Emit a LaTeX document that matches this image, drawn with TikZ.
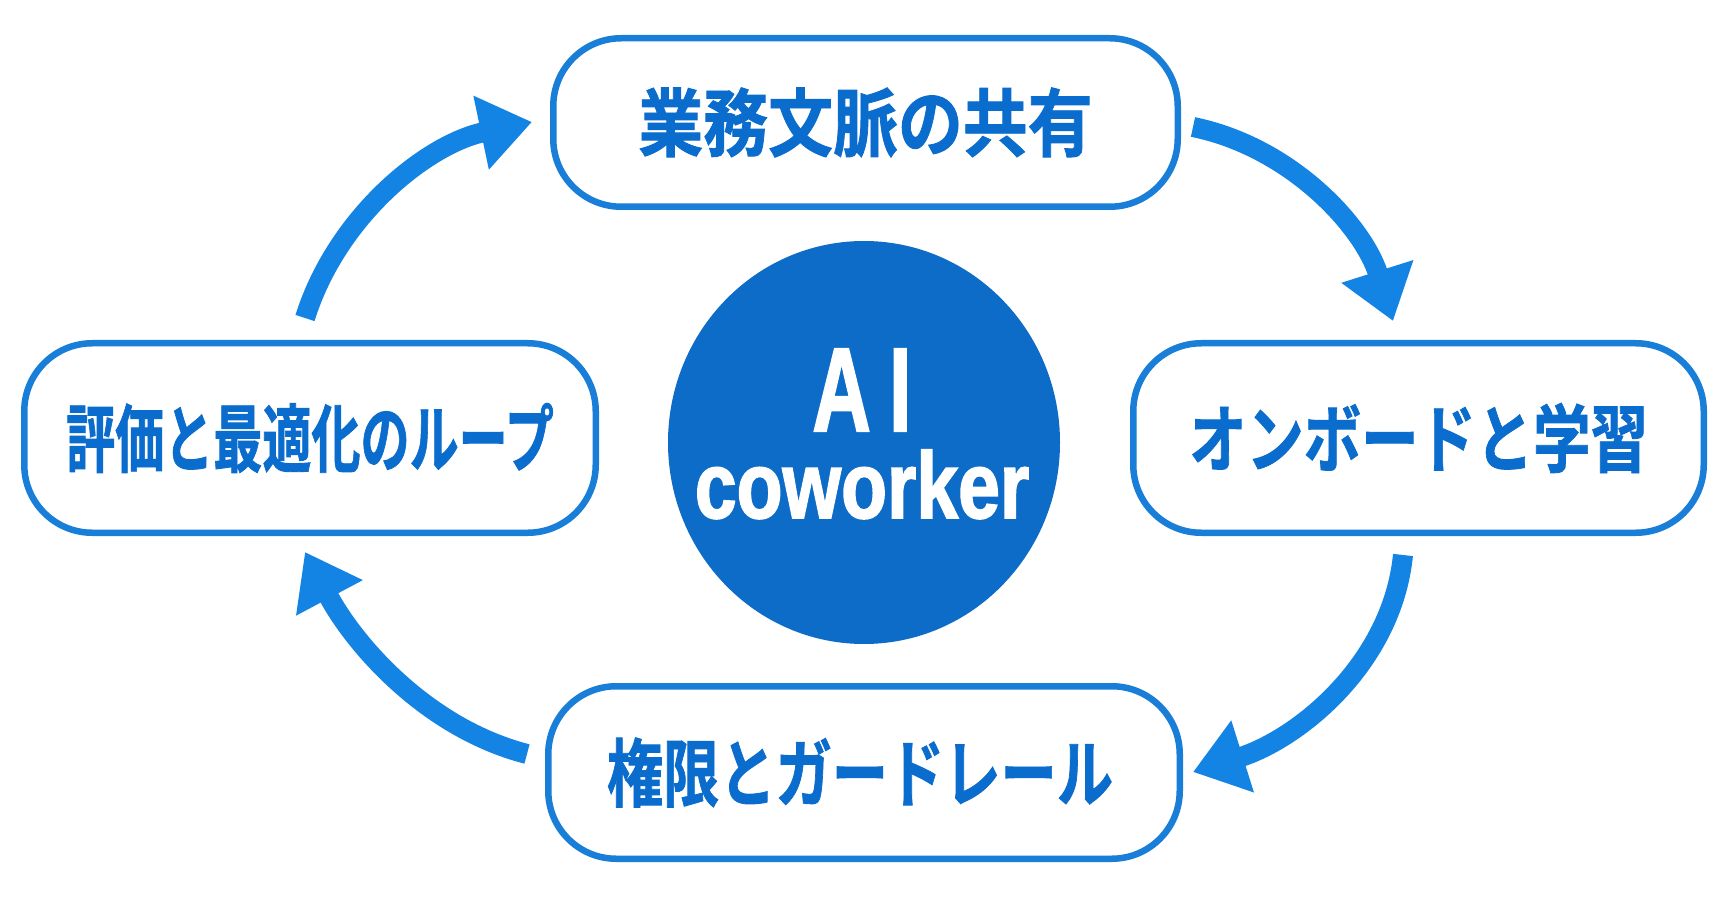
\documentclass[tikz,border=0pt]{standalone}
\usepackage{fontspec}
\usepackage{graphicx}
\usetikzlibrary{arrows.meta,shapes.geometric}
\newfontfamily\jpfont{Noto Sans CJK JP}[BoldFont={* Bold}, BoldFeatures={FakeBold=1.2}]
\newfontfamily\aifont{Liberation Sans}[BoldFeatures={FakeBold=2}]
\definecolor{cblue}{RGB}{12,108,200}
\definecolor{tblue}{RGB}{10,108,204}
\definecolor{bblue}{RGB}{24,126,216}
\definecolor{ablue}{RGB}{20,132,228}
\begin{document}
\begin{tikzpicture}[x=1pt,y=-1pt,
  stage/.style={draw=bblue, line width=6.5pt, fill=white, rounded corners=68pt,
    inner sep=0pt, text=tblue, font={\jpfont\bfseries\fontsize{74}{80}\selectfont}},
  cyc/.style={draw=ablue, line width=20pt, -{Triangle[width=72pt,length=52pt]}},
  coretext/.style={inner sep=0pt, text=white, font={\aifont\bfseries}}]
\fill[white] (0,0) rectangle (1730,909);
\useasboundingbox (0,0) rectangle (1730,909);

% stages
\node[stage, minimum width=624.5pt, minimum height=168.5pt] (top) at (865.5,122.5)
  {\scalebox{0.877}[1]{業務文脈の共有}};
\node[stage, minimum width=571.5pt, minimum height=189.5pt] (left) at (310,438)
  {\scalebox{0.663}[1]{評価と最適化のループ}};
\node[stage, minimum width=570.5pt, minimum height=189.5pt] (right) at (1418.5,438)
  {\scalebox{0.775}[1]{オンボードと学習}};
\node[stage, minimum width=631.5pt, minimum height=172.5pt] (bottom) at (864,772.5)
  {\hspace*{-8pt}\scalebox{0.76}[1]{権限とガードレール}};

% core
\node[ellipse, fill=cblue, minimum width=392pt, minimum height=403pt, inner sep=0pt] (core) at (864,442.5) {};
\node[coretext] (label) at (862,434)
  {\vbox{\baselineskip=87pt \lineskiplimit=-200pt \lineskip=0pt
    \hbox to 400pt{\hss\scalebox{0.68}[1]{\fontsize{119}{87}\selectfont A\kern27pt I}\hss}
    \hbox to 400pt{\hss\scalebox{0.80}[1]{\fontsize{94}{87}\selectfont coworker}\hss}}};

% arrow end points
\coordinate (a1s) at (305,318);  \coordinate (a1e) at (532,122);
\coordinate (a2s) at (1193,127); \coordinate (a2e) at (1393,321);
\coordinate (a3s) at (1403,555); \coordinate (a3e) at (1193,772);
\coordinate (a4s) at (527,754);  \coordinate (a4e) at (305,552);

\draw[cyc] (a1s) .. controls (337,216) and (427,144) .. (a1e);
\draw[cyc] (a2s) .. controls (1291,147) and (1363,226) .. (a2e);
\draw[cyc] (a3s) .. controls (1392,664) and (1298,739) .. (a3e);
\draw[cyc] (a4s) .. controls (426,728) and (354,644) .. (a4e);
\end{tikzpicture}
\end{document}
